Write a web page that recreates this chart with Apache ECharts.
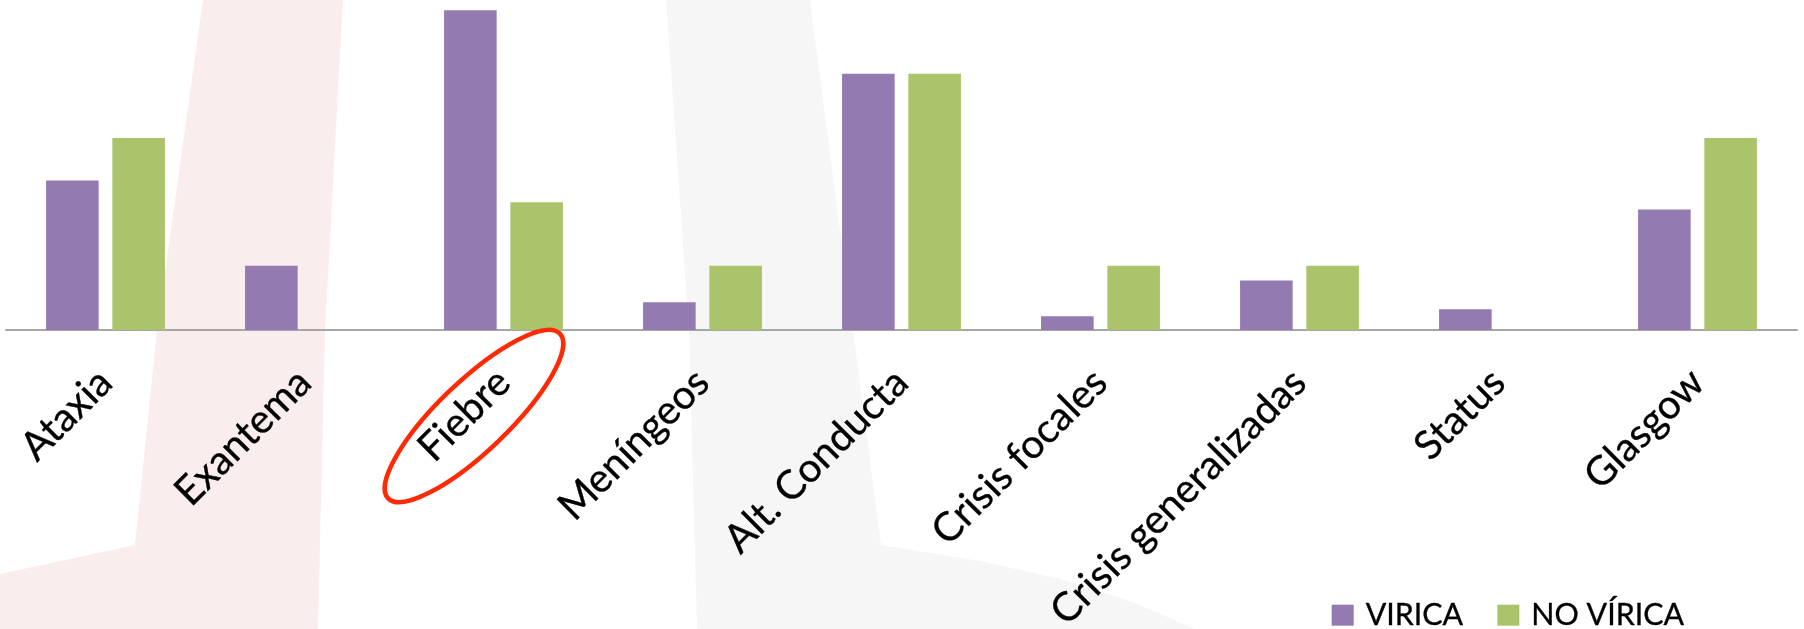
<!DOCTYPE html>
<html>
<head>
<meta charset="utf-8">
<script src="https://cdn.jsdelivr.net/npm/echarts@6/dist/echarts.min.js"></script>
<style>
  html, body { margin: 0; padding: 0; background: #ffffff; }
  #chart { width: 1804px; height: 629px; }
</style>
</head>
<body>
<div id="chart"></div>
<script>
// Clinical findings by group (percent of patients)
const categories = ['Ataxia', 'Exantema', 'Fiebre', 'Meníngeos', 'Alt. Conducta',
  'Crisis focales', 'Crisis generalizadas', 'Status', 'Glasgow'];
const viricaValues = [38.9, 16.7, 83.3, 7.2, 66.7, 3.6, 12.9, 5.4, 31.4];
const noViricaValues = [50.0, 0, 33.3, 16.7, 66.7, 16.7, 16.7, 0, 50.0];
const seriesNames = ['VIRICA', 'NO VÍRICA'];
const circledCategory = 'Fiebre';

const FONT = 'Lato';

// Size a font so that a reference string reaches a given width
function fitFontSize(text, targetWidth) {
  const ctx = document.createElement('canvas').getContext('2d');
  ctx.font = '40px ' + FONT;
  return 40 * targetWidth / ctx.measureText(text).width;
}
const labelSize = fitFontSize('Crisis generalizadas', 342);
const legendSize = fitFontSize('VIRICA', 97.5);

const chart = echarts.init(document.getElementById('chart'), null, { renderer: 'canvas' });

// Soft slide decoration behind the plot
const backdrop = [
  {
    type: 'polygon', z: -10, silent: true,
    shape: { points: [[203, 0], [343, 0], [325, 330], [318, 629], [0, 629], [0, 574], [135, 545], [157, 330]] },
    style: { fill: '#faedee' }
  },
  {
    type: 'polygon', z: -10, silent: true,
    shape: { points: [[666, 0], [810, 0], [853, 330], [881, 545], [980, 561], [1060, 579], [1130, 601], [1195, 629], [697, 629], [689, 330]] },
    style: { fill: '#f6f6f6' }
  }
];

chart.setOption({
  animation: false,
  backgroundColor: '#ffffff',
  graphic: backdrop,
  grid: { left: 6, right: 7, top: 3.6, bottom: 299, containLabel: false, outerBoundsMode: 'none' },
  legend: {
    data: seriesNames,
    left: 1331.7,
    top: 600,
    padding: 0,
    icon: 'rect',
    itemWidth: 22,
    itemHeight: 21,
    itemGap: 34,
    selectedMode: false,
    textStyle: {
      fontFamily: FONT, fontSize: legendSize, color: '#000000', padding: [0, 0, 0, 7],
      textBorderColor: '#000000', textBorderWidth: 0.35
    }
  },
  xAxis: {
    type: 'category',
    data: categories,
    axisLine: { show: true, lineStyle: { color: '#a6a6a6', width: 2 } },
    axisTick: { show: false },
    axisLabel: {
      interval: 0,
      rotate: 45,
      margin: 46,
      fontFamily: FONT,
      fontSize: labelSize,
      color: '#000000',
      textBorderColor: '#000000',
      textBorderWidth: 0.35
    },
    splitLine: { show: false }
  },
  yAxis: {
    type: 'value',
    min: 0,
    max: 85,
    show: false,
    splitLine: { show: false }
  },
  series: [
    {
      name: seriesNames[0],
      type: 'bar',
      data: viricaValues,
      barWidth: 52.6,
      barGap: '26%',
      itemStyle: { color: '#937bb1' },
      emphasis: { disabled: true }
    },
    {
      name: seriesNames[1],
      type: 'bar',
      data: noViricaValues,
      barWidth: 52.6,
      barGap: '26%',
      itemStyle: { color: '#abc46c' },
      emphasis: { disabled: true }
    }
  ]
});

// Red ring drawn around the highlighted category label
const base = chart.convertToPixel({ xAxisIndex: 0, yAxisIndex: 0 }, [circledCategory, 0]);
const cx = base[0] - 29.5;
const cy = base[1] + 86;
chart.setOption({
  graphic: backdrop.concat([{
    type: 'ellipse',
    z: 100,
    silent: true,
    x: cx,
    y: cy,
    rotation: 43.8 * Math.PI / 180,
    shape: { cx: 0, cy: 0, rx: 119, ry: 35 },
    style: { fill: 'none', stroke: '#fe2a05', lineWidth: 4.5 }
  }])
});
</script>
</body>
</html>
